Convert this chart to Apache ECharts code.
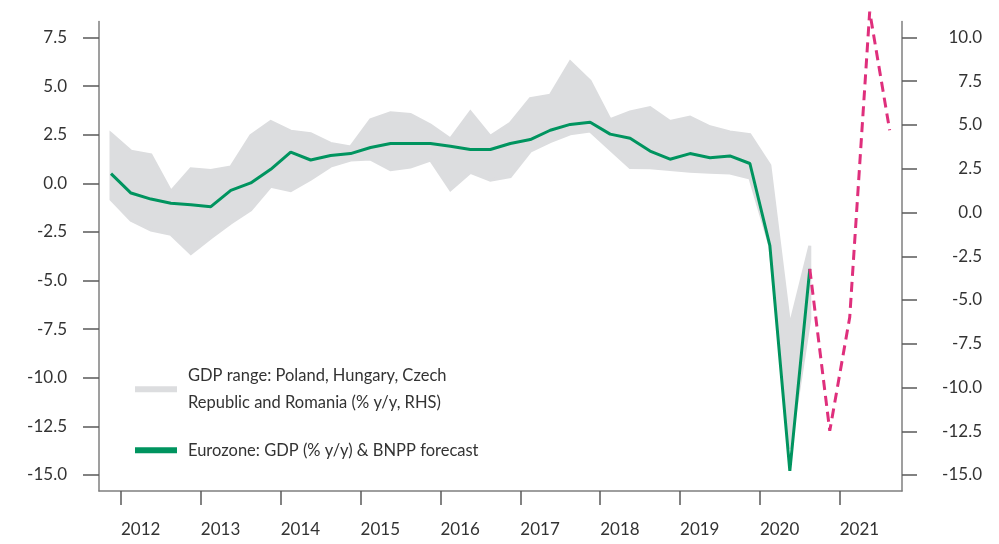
<!DOCTYPE html>
<html><head><meta charset="utf-8">
<script src="https://cdn.jsdelivr.net/npm/echarts@6/dist/echarts.min.js"></script>
<style>html,body{margin:0;padding:0;background:#fff}#c{width:999px;height:544px}</style>
</head><body><div id="c"></div>
<script>
// ---- data ----
const quarters = ['2011Q4',
  '2012Q1','2012Q2','2012Q3','2012Q4','2013Q1','2013Q2','2013Q3','2013Q4',
  '2014Q1','2014Q2','2014Q3','2014Q4','2015Q1','2015Q2','2015Q3','2015Q4',
  '2016Q1','2016Q2','2016Q3','2016Q4','2017Q1','2017Q2','2017Q3','2017Q4',
  '2018Q1','2018Q2','2018Q3','2018Q4','2019Q1','2019Q2','2019Q3','2019Q4',
  '2020Q1','2020Q2','2020Q3','2020Q4','2021Q1','2021Q2','2021Q3'];
// Eurozone GDP % y/y (LHS), 2011Q4..2020Q3
const eurozoneGdp = [0.5,-0.5,-0.81,-1.02,-1.1,-1.2,-0.36,0.02,0.72,1.61,
  1.2,1.43,1.53,1.84,2.05,2.05,2.05,1.91,1.74,1.74,
  2.05,2.25,2.73,3.03,3.14,2.53,2.32,1.66,1.24,1.53,
  1.32,1.41,1.02,-3.2,-14.79,-4.4];
// BNPP forecast (LHS), 2020Q3..2021Q3
const forecastQuarters = ['2020Q3','2020Q4','2021Q1','2021Q2','2021Q3'];
const eurozoneForecast = [-4.4,-12.73,-6.89,8.83,2.73];
// CEE GDP range (RHS), 2011Q4..2020Q3
const rangeHigh = [4.5,3.5,3.3,1.2,2.5,2.4,2.6,4.4,5.2,4.65,
  4.5,3.95,3.75,5.3,5.7,5.6,5.0,4.2,5.75,4.35,
  5.1,6.5,6.7,8.6,7.5,5.3,5.75,6.0,5.2,5.45,
  4.9,4.6,4.45,2.7,-6.5,-1.9];
const rangeLow = [0.75,-0.45,-1.0,-1.25,-2.35,-1.45,-0.6,0.15,1.5,1.25,
  1.9,2.65,3.0,3.05,2.45,2.6,3.0,1.3,2.3,1.85,
  2.05,3.5,4.05,4.5,4.65,3.6,2.57,2.55,2.45,2.35,
  2.3,2.25,1.97,-1.9,-13.5,-6.1];
const leftTicks = [-15,-12.5,-10,-7.5,-5,-2.5,0,2.5,5,7.5];
const rightTicks = [-15,-12.5,-10,-7.5,-5,-2.5,0,2.5,5,7.5,10];
const yearTicks = [2012,2013,2014,2015,2016,2017,2018,2019,2020,2021];

const RANGE_NAME = 'GDP range: Poland, Hungary, Czech\nRepublic and Romania (% y/y, RHS)';
const EZ_NAME = 'Eurozone: GDP (% y/y) & BNPP forecast';
const GREY = '#dcdddf', GREEN = '#00945f', PINK = '#df2f7c';
const FONT = 'Lato';

// quarter label -> position on the time scale (middle of the quarter)
const qx = q => +q.slice(0, 4) + (+q[5] - 1) / 4 + 0.125;

const rangeData = rangeLow.map((lo, i) => [qx(quarters[i]), lo, rangeHigh[i]]);
const ezData = eurozoneGdp.map((v, i) => [qx(quarters[i]), v]);
const fcData = eurozoneForecast.map((v, i) => [qx(forecastQuarters[i]), v]);

const chart = echarts.init(document.getElementById('c'), null, {renderer: 'canvas'});
const axisLineStyle = {color: '#7f7f7f', width: 1.5};
const tickStyle = {color: '#5a5a5a', width: 1.5};
const labelStyle = {color: '#333', fontFamily: FONT, fontSize: 17};

chart.setOption({
  animation: false,
  backgroundColor: '#fff',
  grid: {left: 99, right: 97, top: 21.5, bottom: 53, containLabel: false, outerBoundsMode: 'none'},
  xAxis: {
    type: 'value', min: 2011.7245, max: 2021.7796,
    axisLine: {show: true, onZero: false, lineStyle: axisLineStyle},
    axisTick: {show: true, length: 14, customValues: yearTicks, lineStyle: tickStyle},
    axisLabel: Object.assign({customValues: yearTicks, align: 'left', margin: 30,
      formatter: v => String(v)}, labelStyle),
    splitLine: {show: false}
  },
  yAxis: [{
    type: 'value', position: 'left', min: -15.823, max: 8.323,
    axisLine: {show: true, onZero: false, lineStyle: axisLineStyle},
    axisTick: {show: true, length: 16, customValues: leftTicks, lineStyle: tickStyle},
    axisLabel: Object.assign({customValues: leftTicks, margin: 32,
      formatter: v => v.toFixed(1)}, labelStyle),
    splitLine: {show: false}
  }, {
    type: 'value', position: 'right', min: -15.914, max: 10.914,
    axisLine: {show: true, onZero: false, lineStyle: axisLineStyle},
    axisTick: {show: true, length: 15, customValues: rightTicks, lineStyle: tickStyle},
    axisLabel: Object.assign({customValues: rightTicks, margin: 80, align: 'right',
      formatter: v => v.toFixed(1)}, labelStyle),
    splitLine: {show: false}
  }],
  legend: {
    orient: 'vertical', left: 135, top: 348.8, padding: 0, itemGap: 7,
    itemWidth: 42, itemHeight: 6, selectedMode: false,
    textStyle: {fontFamily: FONT, fontSize: 16.5, color: '#333', lineHeight: 27},
    data: [
      {name: RANGE_NAME, icon: 'rect', itemStyle: {color: GREY}, textStyle: {padding: [27, 0, 0, 6]}},
      {name: EZ_NAME, icon: 'rect', itemStyle: {color: GREEN}, textStyle: {padding: [0, 0, 0, 6]}}
    ]
  },
  series: [{
    name: RANGE_NAME, type: 'custom', yAxisIndex: 1, z: 1,
    itemStyle: {color: GREY},
    data: rangeData,
    encode: {x: 0, y: [1, 2]},
    renderItem: function (params, api) {
      if (params.dataIndex !== 0) return null;
      const pts = [];
      for (let i = 0; i < rangeData.length; i++) pts.push(api.coord([rangeData[i][0], rangeData[i][2]]));
      for (let i = rangeData.length - 1; i >= 0; i--) pts.push(api.coord([rangeData[i][0], rangeData[i][1]]));
      return {type: 'polygon', shape: {points: pts},
        style: {fill: GREY, stroke: GREY, lineWidth: 3, lineJoin: 'miter', miterLimit: 3}};
    }
  }, {
    name: EZ_NAME, type: 'line', yAxisIndex: 0, z: 3,
    data: ezData, symbol: 'none', itemStyle: {color: GREEN},
    lineStyle: {color: GREEN, width: 3}
  }, {
    name: 'BNPP forecast', type: 'line', yAxisIndex: 0, z: 3, clip: false,
    data: fcData, symbol: 'none', itemStyle: {color: PINK},
    lineStyle: {color: PINK, width: 3, type: [10, 6]}
  }]
});
</script></body></html>
